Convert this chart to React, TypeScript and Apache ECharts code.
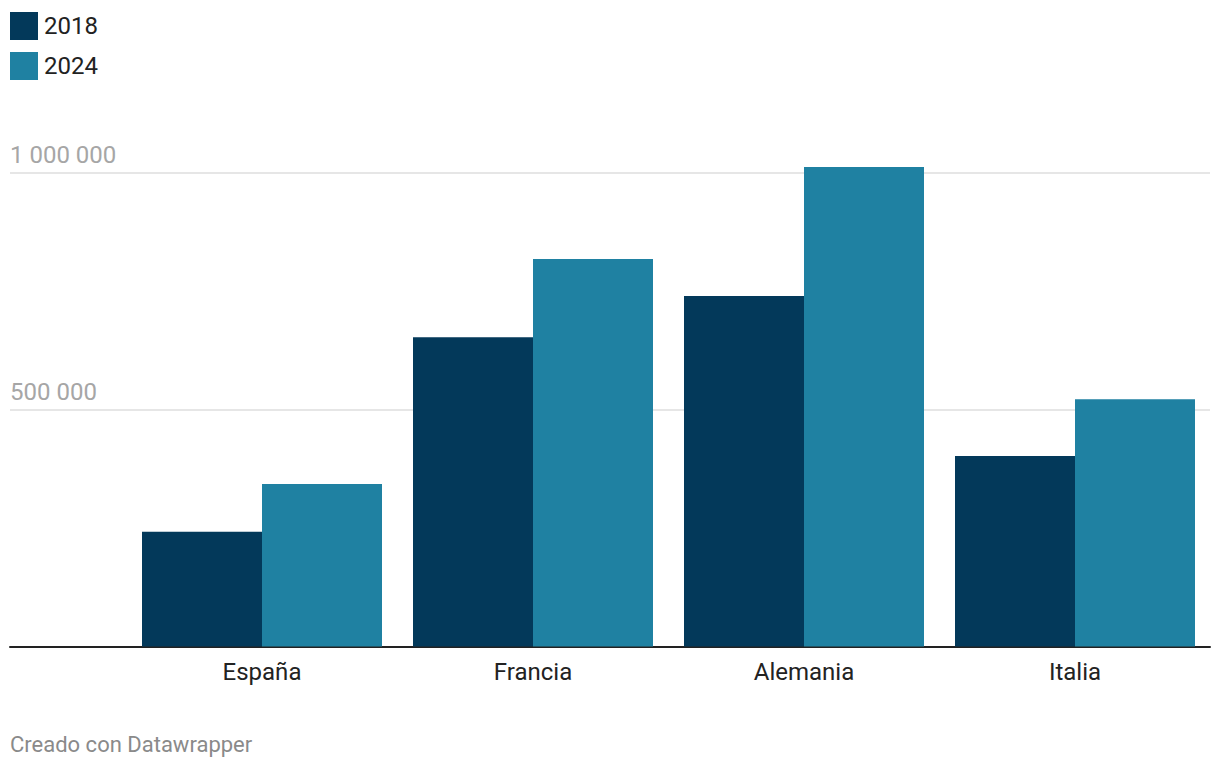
import React, { useEffect, useRef } from "react";
import * as echarts from "echarts";

const categories = ["España", "Francia", "Alemania", "Italia"];
const seriesNames = ["2018", "2024"];
const values2018 = [242000, 653000, 740000, 402000];
const values2024 = [343000, 818000, 1012000, 522000];
const yTicks = [0, 500000, 1000000];
const footer = "Creado con Datawrapper";

const FONT = "Roboto, 'Noto Sans', sans-serif";

function fmt(v: number): string {
  if (v === 0) return "";
  return String(v).replace(/\B(?=(\d{3})+(?!\d))/g, " ");
}

export default function App() {
  const ref = useRef<HTMLDivElement>(null);
  useEffect(() => {
    if (!ref.current) return;
    const chart = echarts.init(ref.current, undefined, { renderer: "svg" });
    const base = 646.5;
    const pxPerUnit = 473.7 / 1000000;
    const maxBars = 1050000;
    chart.setOption({
      animation: false,
      backgroundColor: "#ffffff",
      textStyle: { fontFamily: FONT },
      color: ["#03395a", "#1f81a2"],
      legend: {
        orient: "vertical",
        left: 10,
        top: 12,
        padding: 0,
        itemWidth: 28,
        itemHeight: 28,
        itemGap: 12,
        icon: "rect",
        data: seriesNames,
        textStyle: { fontSize: 24, color: "#222", fontFamily: FONT, padding: [0, 0, 0, 1] },
      },
      grid: [
        { left: 10, right: 10, top: base - 473.7, bottom: 768 - base, containLabel: false },
        { left: 126.5, right: 9.5, top: base - maxBars * pxPerUnit, bottom: 768 - base, containLabel: false },
      ],
      xAxis: [
        {
          gridIndex: 0,
          type: "value",
          min: 0,
          max: 1,
          axisLine: { show: true, onZero: false, lineStyle: { color: "#222", width: 2 } },
          axisTick: { show: false },
          axisLabel: { show: false },
          splitLine: { show: false },
        },
        {
          gridIndex: 1,
          type: "category",
          data: categories,
          axisLine: { show: false },
          axisTick: { show: false },
          axisLabel: { fontSize: 24, color: "#222", margin: 13, fontFamily: FONT },
          splitLine: { show: false },
        },
      ],
      yAxis: [
        {
          gridIndex: 0,
          type: "value",
          min: yTicks[0],
          max: yTicks[yTicks.length - 1],
          interval: yTicks[1] - yTicks[0],
          axisLine: { show: false },
          axisTick: { show: false },
          axisLabel: {
            inside: true,
            margin: 0,
            verticalAlign: "bottom",
            padding: [0, 0, 6, 0],
            fontSize: 24,
            color: "#a6a6a6",
            fontFamily: FONT,
            formatter: (v: number) => fmt(v),
          },
          splitLine: { show: true, lineStyle: { color: "#e6e6e6", width: 2 } },
        },
        {
          gridIndex: 1,
          type: "value",
          min: 0,
          max: maxBars,
          axisLine: { show: false },
          axisTick: { show: false },
          axisLabel: { show: false },
          splitLine: { show: false },
        },
      ],
      series: [
        {
          name: seriesNames[0],
          type: "bar",
          xAxisIndex: 1,
          yAxisIndex: 1,
          data: values2018,
          barWidth: 120,
          barGap: "0%",
          z: 1,
        },
        {
          name: seriesNames[1],
          type: "bar",
          xAxisIndex: 1,
          yAxisIndex: 1,
          data: values2024,
          barWidth: 120,
          barGap: "0%",
          z: 1,
        },
      ],
      graphic: [
        {
          type: "text",
          left: 10,
          top: 733,
          style: { text: footer, fontSize: 22, fill: "#8a8a8a", fontFamily: FONT },
        },
      ],
    });
    return () => chart.dispose();
  }, []);
  return (
    <div
      ref={ref}
      style={{ position: "fixed", left: 0, top: 0, width: 1220, height: 768 }}
    />
  );
}
